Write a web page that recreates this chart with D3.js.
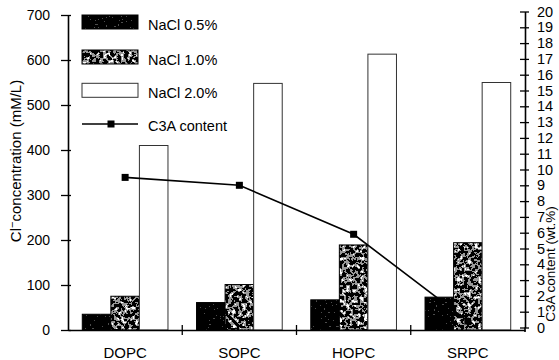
<!DOCTYPE html>
<html><head><meta charset="utf-8">
<script src="https://cdn.jsdelivr.net/npm/d3@7"></script>
<style>
body{margin:0;background:#fff}
text{font-family:"Liberation Sans",Arial,sans-serif;fill:#000}
</style>
</head><body>
<svg id="c" width="559" height="360"></svg>
<script>
const categories = ["DOPC", "SOPC", "HOPC", "SRPC"];
const seriesNames = ["NaCl 0.5%", "NaCl 1.0%", "NaCl 2.0%"];
const nacl05 = [35, 61, 67, 73];
const nacl10 = [75, 101, 189, 194];
const nacl20 = [410, 548, 613, 550];
const lineName = "C3A content";
const c3a = [9.5, 9.0, 5.9, 0.4];
const leftTicks = [0, 100, 200, 300, 400, 500, 600, 700];
const rightTicks = [0,1,2,3,4,5,6,7,8,9,10,11,12,13,14,15,16,17,18,19,20];
const leftTitle = "Cl";
const leftTitleSup = "\u2212";
const leftTitleRest = "concentration (mM/L)";
const rightTitle = "C3A content (wt.%)";

const seriesValues = [nacl05, nacl10, nacl20];

const svg = d3.select("#c");
svg.append("rect").attr("width",559).attr("height",360).attr("fill","#fff");

// texture filters
const defs = svg.append("defs");
function noiseFilter(id, freq, seed, table){
  const f = defs.append("filter").attr("id",id)
    .attr("x","0").attr("y","0").attr("width","1").attr("height","1")
    .attr("color-interpolation-filters","sRGB");
  f.append("feTurbulence").attr("type","fractalNoise").attr("baseFrequency",freq)
    .attr("numOctaves",2).attr("seed",seed).attr("result","n");
  f.append("feColorMatrix").attr("in","n").attr("type","matrix")
    .attr("values","1 0 0 0 0  1 0 0 0 0  1 0 0 0 0  0 0 0 0 1").attr("result","g");
  const ct = f.append("feComponentTransfer").attr("in","g").attr("result","t");
  ["feFuncR","feFuncG","feFuncB"].forEach(k=>ct.append(k).attr("type","discrete").attr("tableValues",table));
  f.append("feComposite").attr("in","t").attr("in2","SourceAlpha").attr("operator","in");
}
noiseFilter("f05","0.5",4,"0 0 0 0 0 0.3 0.45");
noiseFilter("f10","0.28",7,"0 0 0 0.6 1 1");

const x = d3.scaleBand().domain(categories).range([68,525]).padding(0);
const bw = x.bandwidth();
const xs = d3.scaleBand().domain(seriesNames).range([bw*0.125, bw*0.875]);
const yL = d3.scaleLinear().domain([0,700]).range([330,15]);
const yR = d3.scaleLinear().domain([0,20]).range([327.5,11.5]);

const fills = ["#000","#000","#fff"];
const filters = ["url(#f05)","url(#f10)",null];
const strokes = ["#000","#000","#333"];

// bars
const g = svg.append("g");
seriesNames.forEach((s,si)=>{
  const vals = seriesValues[si];
  const sel = g.selectAll(null).data(categories).enter();
  sel.append("rect")
    .attr("x",c=>x(c)+xs(s)).attr("width",xs.bandwidth())
    .attr("y",(c,i)=>yL(vals[i])).attr("height",(c,i)=>yL(0)-yL(vals[i]))
    .attr("fill",fills[si]).attr("filter",filters[si]);
  sel.append("rect")
    .attr("x",c=>x(c)+xs(s)).attr("width",xs.bandwidth())
    .attr("y",(c,i)=>yL(vals[i])).attr("height",(c,i)=>yL(0)-yL(vals[i]))
    .attr("fill","none").attr("stroke",strokes[si]).attr("stroke-width",1);
});

// line
const lx = (d,i)=>x(categories[i])+bw/2;
svg.append("path").datum(c3a)
  .attr("d",d3.line().x(lx).y(d=>yR(d)))
  .attr("fill","none").attr("stroke","#000").attr("stroke-width",1.6);
svg.selectAll(".mk").data(c3a).enter().append("rect")
  .attr("x",(d,i)=>lx(d,i)-3.5).attr("y",d=>yR(d)-3.5)
  .attr("width",7).attr("height",7).attr("fill","#000");

// left axis
const ax = svg.append("g").attr("transform","translate(68,0)")
  .call(d3.axisLeft(yL).tickValues(leftTicks).tickSize(7).tickSizeOuter(0).tickPadding(11));
ax.selectAll(".tick line").attr("x1",3).attr("stroke-width",1.3);
ax.select(".domain").attr("stroke-width",1.6);
ax.selectAll("text").style("font-size","14px").style("font-family",'"Liberation Sans",Arial,sans-serif');

// right axis
const ar = svg.append("g").attr("transform","translate(525,0)")
  .call(d3.axisRight(yR).tickValues(rightTicks).tickSize(4).tickSizeOuter(0).tickPadding(8));
ar.selectAll(".tick line").attr("x1",-5).attr("stroke-width",1.3);
ar.select(".domain").attr("stroke-width",1.6);
ar.selectAll("text").style("font-size","14.5px").style("font-family",'"Liberation Sans",Arial,sans-serif');
svg.append("line").attr("x1",525).attr("x2",525).attr("y1",yR(0)).attr("y2",yL(0)+2)
  .attr("stroke","#000").attr("stroke-width",1.6);

// bottom axis
const ab = svg.append("g").attr("transform","translate(0,330)")
  .call(d3.axisBottom(x).tickSize(0).tickSizeOuter(0).tickPadding(17));
ab.select(".domain").attr("stroke-width",1.6);
ab.selectAll("text").style("font-size","15px").style("font-family",'"Liberation Sans",Arial,sans-serif');
svg.selectAll(".bt").data(categories.slice(1)).enter().append("line")
  .attr("x1",c=>x(c)).attr("x2",c=>x(c)).attr("y1",325).attr("y2",335)
  .attr("stroke","#000").attr("stroke-width",1.3);

// legend
const lg = svg.append("g");
const legBase = [30, 65, 98.3];
seriesNames.forEach((s,si)=>{
  lg.append("rect").attr("x",82).attr("y",legBase[si]-15).attr("width",56).attr("height",14)
    .attr("fill",fills[si]).attr("filter",filters[si]);
  lg.append("rect").attr("x",82).attr("y",legBase[si]-15).attr("width",56).attr("height",14)
    .attr("fill","none").attr("stroke",strokes[si]).attr("stroke-width",1);
  lg.append("text").attr("x",148).attr("y",legBase[si]).style("font-size","14.5px").text(s);
});
lg.append("line").attr("x1",82).attr("x2",138).attr("y1",124).attr("y2",124)
  .attr("stroke","#000").attr("stroke-width",1.6);
lg.append("rect").attr("x",107.5).attr("y",120.5).attr("width",7).attr("height",7).attr("fill","#000");
lg.append("text").attr("x",148).attr("y",131).style("font-size","14.5px").text(lineName);

// axis titles
const lt = svg.append("text").attr("transform","translate(21,161) rotate(-90)")
  .attr("text-anchor","middle").style("font-size","15px");
lt.append("tspan").text(leftTitle);
lt.append("tspan").attr("dy",-5).style("font-size","11px").text(leftTitleSup);
lt.append("tspan").attr("dy",5).text(leftTitleRest);
svg.append("text").attr("transform","translate(555,264) rotate(-90)")
  .attr("text-anchor","middle").style("font-size","13.5px").text(rightTitle);
</script>
</body></html>
